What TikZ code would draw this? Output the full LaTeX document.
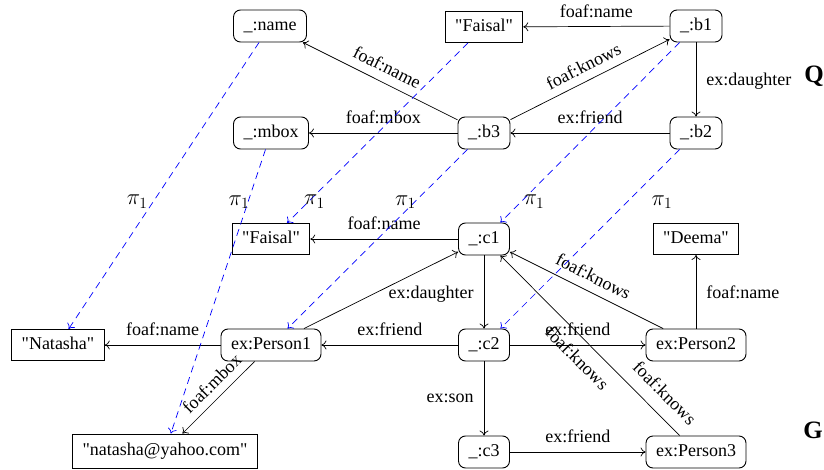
\documentclass[tikz,border=0pt]{standalone}
\usepackage{graphicx}
\usepackage{fontspec}
\setmainfont{Liberation Serif}
\usetikzlibrary{arrows.meta}
\newcommand{\qd}{\textquotedbl}
\newcommand{\pione}{\scalebox{1.3}{$\pi_1$}}
\begin{document}
\begin{tikzpicture}[x=1pt,y=-1pt,
  every node/.style={font=\fontsize{18}{21}\selectfont},
  res/.style={draw, rounded corners=7pt, minimum height=32pt, inner xsep=10pt, inner ysep=0pt, text height=12pt, text depth=3.5pt, line width=0.9pt},
  lit/.style={draw, rectangle, minimum height=31pt, inner xsep=10pt, inner ysep=0pt, text height=12pt, text depth=3.5pt, line width=0.9pt},
  rel/.style={-{To[length=5pt,width=9pt]}, line width=0.7pt},
  proj/.style={-{To[length=5pt,width=9pt]}, blue, dash pattern=on 7pt off 5pt, line width=0.7pt},
  lab/.style={inner sep=0pt, text depth=0pt},
  pil/.style={inner sep=0pt, text=black},
  big/.style={font=\fontsize{25}{28}\selectfont\bfseries}
]
\useasboundingbox (0,0) rectangle (824,470);
% Q
\node[res] (name) at (270,26) {\_:name};
\node[lit] (fq) at (484,27) {\qd Faisal\qd};
\node[res] (b1) at (696,26) {\_:b1};
\node[res] (mbox) at (271,133) {\_:mbox};
\node[res] (b3) at (484,133) {\_:b3};
\node[res] (b2) at (696,133) {\_:b2};
\node[big] (Q) at (814,76) {Q};
% G
\node[lit] (fg) at (271,239) {\qd Faisal\qd};
\node[res] (c1) at (484,239) {\_:c1};
\node[lit] (deema) at (696,239) {\qd Deema\qd};
\node[lit] (natasha) at (58,345) {\qd Natasha\qd};
\node[res] (p1) at (271,345) {ex:Person1};
\node[res] (c2) at (484,345) {\_:c2};
\node[res] (p2) at (696,345) {ex:Person2};
\node[lit, minimum height=34pt] (yahoo) at (165,451) {\qd natasha@yahoo.com\qd};
\node[res] (c3) at (484,452) {\_:c3};
\node[res] (p3) at (696,452) {ex:Person3};
\node[big] (G) at (813,430) {G};
% Q edges
\draw[rel] (b1) -- node[lab, above=9pt] {foaf:name} (fq);
\draw[rel] (b1) -- node[lab, right=10pt] {ex:daughter} (b2);
\draw[rel] (b3) -- node[lab, sloped, above=8pt] {foaf:knows} (b1);
\draw[rel] (b2) -- node[lab, above=9pt] {ex:friend} (b3);
\draw[rel] (b3) -- node[lab, sloped, above=9pt] {foaf:name} (name);
\draw[rel] (b3) -- node[lab, above=9pt] {foaf:mbox} (mbox);
% G edges
\draw[rel] (c1) -- node[lab, above=9pt] {foaf:name} (fg);
\draw[rel] (p2) -- node[lab, right=10pt] {foaf:name} (deema);
\draw[rel] (p1) -- (c1);
\draw[rel] (c1) -- node[lab, left=10pt] {ex:daughter} (c2);
\draw[rel] (c2) -- node[lab, above=9pt] {ex:friend} (p1);
\draw[rel] (c2) -- node[lab, above=9pt] {ex:friend} (p2);
\draw[rel] (c2) -- node[lab, left=10pt] {ex:son} (c3);
\draw[rel] (c3) -- node[lab, above=9pt] {ex:friend} (p3);
\draw[rel] (p2) -- node[lab, sloped, above=9pt] {foaf:knows} (c1);
\draw[rel] (p3) -- node[lab, sloped, below=11pt, pos=0.5] {foaf:knows} node[lab, sloped, above=13pt, pos=0.16] {foaf:knows} (c1);
\draw[rel] (p1) -- node[lab, above=9pt] {foaf:name} (natasha);
\draw[rel] (p1) -- node[lab, sloped, above=8pt, pos=0.45] {foaf:mbox} (yahoo);
% projections
\draw[proj] (name) -- node[pil, pos=0.556, xshift=-16pt] {\pione} (natasha);
\draw[proj] (mbox) -- node[pil, pos=0.186, xshift=-9pt] {\pione} (yahoo);
\draw[proj] (fq) -- node[pil, pos=0.881, xshift=6pt] {\pione} (fg);
\draw[proj] (b3) -- node[pil, pos=0.294, xshift=-9pt] {\pione} (p1);
\draw[proj] (b1) -- node[pil, pos=0.884, xshift=13pt] {\pione} (c1);
\draw[proj] (b2) -- node[pil, pos=0.294, xshift=35pt] {\pione} (c2);
\end{tikzpicture}
\end{document}
